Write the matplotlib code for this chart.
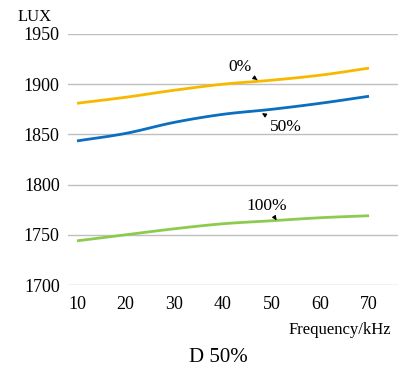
import numpy as np
import matplotlib
matplotlib.use("Agg")
import matplotlib.pyplot as plt

freq = [10, 20, 30, 40, 50, 60, 70]
lux_0 = [1881, 1887, 1894, 1900, 1904, 1909, 1916]
lux_50 = [1843.5, 1851, 1862, 1870, 1875, 1881, 1888]
lux_100 = [1744, 1750, 1756, 1761, 1764, 1767, 1769]
series_labels = ["0%", "50%", "100%"]
yticks = [1700, 1750, 1800, 1850, 1900, 1950]

plt.rcParams['font.family'] = ['Liberation Serif', 'DejaVu Serif']

def smooth(x, y, n=20):
    x = np.asarray(x, float); y = np.asarray(y, float)
    xs, ys = [], []
    for i in range(len(x) - 1):
        p0 = y[i - 1] if i > 0 else 2 * y[0] - y[1]
        p3 = y[i + 2] if i + 2 < len(y) else 2 * y[-1] - y[-2]
        p1, p2 = y[i], y[i + 1]
        t = np.linspace(0, 1, n, endpoint=False)
        yy = 0.5 * ((2 * p1) + (-p0 + p2) * t + (2 * p0 - 5 * p1 + 4 * p2 - p3) * t**2
                    + (-p0 + 3 * p1 - 3 * p2 + p3) * t**3)
        xs.append(x[i] + (x[i + 1] - x[i]) * t)
        ys.append(yy)
    xs.append([x[-1]]); ys.append([y[-1]])
    return np.concatenate(xs), np.concatenate(ys)

fig = plt.figure(figsize=(4.06, 3.72), dpi=100)
ax = fig.add_axes([68/406, 1 - 285/372, 330/406, 251/372])

colors = ["#F7B900", "#0A6FBF", "#8CCB4E"]
for ys, c in zip([lux_0, lux_50, lux_100], colors):
    sx, sy = smooth(freq, ys)
    ax.plot(sx, sy, color=c, lw=2.0, solid_capstyle='butt', zorder=3)

ax.set_xlim(8.15, 75.95)
ax.set_ylim(1700, 1950)
ax.set_yticks(yticks)
ax.set_xticks(freq)
ax.grid(axis='y', color='#bfbfbf', lw=1.0, zorder=0)
for s in ax.spines.values():
    s.set_visible(False)
ax.tick_params(length=0, labelsize=13, pad=6)
ax.tick_params(axis='x', pad=8)

fig.text(35/406, 1 - 17/372, "LUX", ha='center', va='center', fontsize=12)
fig.text(340/406, 1 - 330/372, "Frequency/kHz", ha='center', va='center', fontsize=12)
fig.text(218/406, 1 - 357/372, "D 50%", ha='center', va='center', fontsize=15)

arrow = dict(arrowstyle='-|>', color='black', lw=0.8, mutation_scale=6)
ax.annotate(series_labels[0], xy=(47.5, lux_0[3] + 2.5), xytext=(43.5, 1917),
            ha='center', va='center', fontsize=12.5, arrowprops=arrow)
ax.annotate(series_labels[1], xy=(47.5, lux_50[4] - 2.5), xytext=(53, 1857),
            ha='center', va='center', fontsize=12.5, arrowprops=arrow)
ax.annotate(series_labels[2], xy=(51, lux_100[4] + 0.5), xytext=(49, 1779),
            ha='center', va='center', fontsize=12.5, arrowprops=arrow)

fig.savefig("out.png", dpi=100)
